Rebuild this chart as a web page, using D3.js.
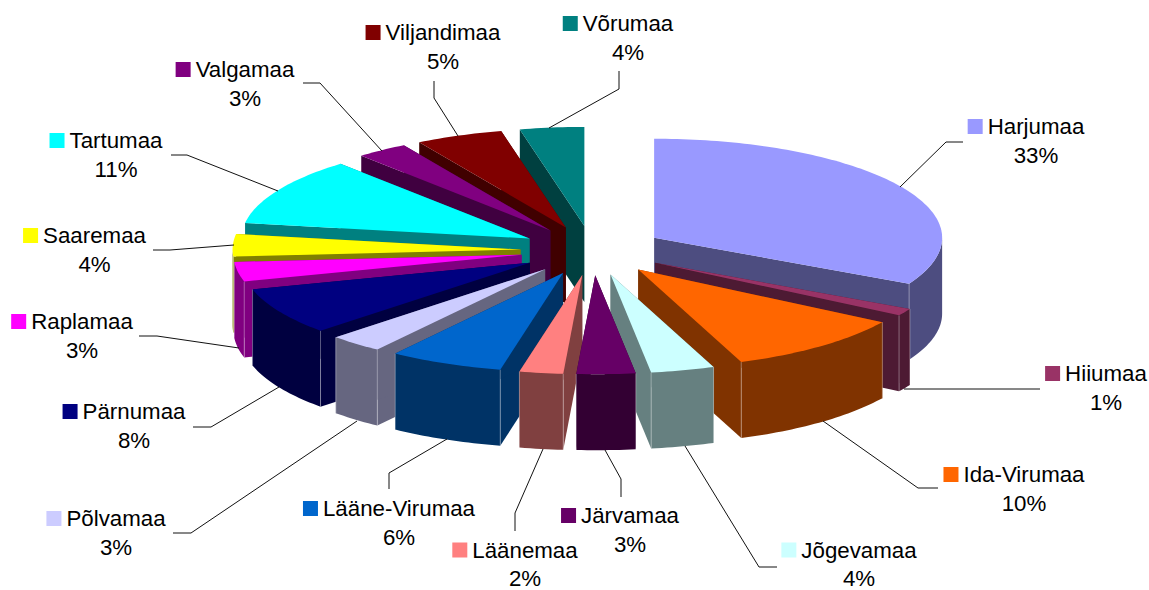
<!DOCTYPE html>
<html>
<head>
<meta charset="utf-8">
<script src="https://cdn.jsdelivr.net/npm/d3@7"></script>
<style>
	html, body { margin: 0; padding: 0; background: #fff; }
	svg { display: block; }
	.label { font-family: "Liberation Sans", Arial, sans-serif; font-size: 22.3px; fill: #000; }
	.leader { fill: none; stroke: #111; stroke-width: 1; }
</style>
</head>
<body>
<script>
//county shares, clockwise from 12 o'clock
var names = ["Harjumaa", "Hiiumaa", "Ida-Virumaa", "Jõgevamaa", "Järvamaa", "Läänemaa", "Lääne-Virumaa", "Põlvamaa",
			"Pärnumaa", "Raplamaa", "Saaremaa", "Tartumaa", "Valgamaa", "Viljandimaa", "Võrumaa"];
var values = [32.7, 1.2, 10.28, 3.57, 3.3, 2.45, 6.4, 3.05, 7.7, 3.2, 3.65, 11.1, 2.9, 4.9, 3.6];

//slice colours
var colors = ["#9999ff", "#993366", "#ff6600", "#ccffff", "#660066", "#ff8080", "#0066cc", "#ccccff",
			"#000080", "#ff00ff", "#ffff00", "#00ffff", "#800080", "#800000", "#008080"];

//label placement: centre of the name, baseline of the name
var labelX = [1036, 1106, 1024, 859, 630, 525, 399, 116, 134, 82, 94.5, 116, 245, 443, 628];
var labelY = [134, 381, 482, 557.5, 523, 557.5, 516, 526, 419, 329, 243, 148, 77, 40, 31];

//leader lines
var leaders = [
	[[900, 187], [946, 142], [963, 142]],
	[[904, 389], [1040, 389]],
	[[823, 421], [918, 488], [938, 488]],
	[[685, 446], [759, 567], [777, 567]],
	[[605, 450], [621, 479], [621, 497]],
	[[543, 449], [515, 513], [515, 531]],
	[[447, 439], [389, 473], [389, 489]],
	[[357, 421], [191, 533], [173, 533]],
	[[279, 387], [211, 427], [193, 427]],
	[[239, 348], [157, 336], [139, 336]],
	[[234, 245], [170, 250], [153, 250]],
	[[278, 191], [187, 155], [171, 155]],
	[[382, 151], [320, 83], [303, 83]],
	[[458, 136], [434, 98], [434, 81]],
	[[549, 128], [619, 89], [619, 71]]
];

//begin script when window loads
window.onload = setChart();

function setChart(){
	var width = 1149,
		height = 590,
		explode = 0.25, //slices are pulled out by a quarter radius
		depth = 76;

	var svg = d3.select("body")
		.append("svg")
		.attr("width", width)
		.attr("height", height);

	//unit circle to tilted screen ellipse
	var xScale = d3.scaleLinear().domain([-1, 1]).range([592.5 - 288, 592.5 + 288]);
	var yScale = d3.scaleLinear().domain([-1, 1]).range([250.5 - 99, 250.5 + 99]);

	var pie = d3.pie()
		.sort(null)
		.value(function(d){ return d; });

	var arcs = pie(values).map(function(d, i){
		d.index = i;
		d.mid = (d.startAngle + d.endAngle) / 2;
		return d;
	});

	var line = d3.line();

	//apex of a slice after exploding it
	function apex(d){
		return [Math.sin(d.mid) * explode, -Math.cos(d.mid) * explode];
	}

	function toScreen(p, drop){
		return [xScale(p[0]), yScale(p[1]) + (drop || 0)];
	}

	//rim of the slice between two angles, in unit coordinates
	function rim(d, from, to){
		var a = apex(d);
		var steps = Math.max(2, Math.ceil((to - from) / 0.02));
		return d3.range(steps + 1).map(function(k){
			var t = from + (to - from) * k / steps;
			return [a[0] + Math.sin(t), a[1] - Math.cos(t)];
		});
	}

	function sideColor(c){
		var rgb = d3.rgb(c);
		return d3.rgb(rgb.r * 0.5, rgb.g * 0.5, rgb.b * 0.5).formatHex();
	}

	//paint from the back of the pie to the front
	var order = arcs.slice().sort(function(a, b){
		return Math.cos(b.mid) - Math.cos(a.mid);
	});

	var slices = svg.selectAll(".slice")
		.data(order)
		.enter()
		.append("g")
		.attr("class", "slice");

	slices.each(function(d){
		var g = d3.select(this),
			a = apex(d),
			r = rim(d, d.startAngle, d.endAngle),
			first = r[0],
			last = r[r.length - 1],
			side = sideColor(colors[d.index]);

		//two cut faces
		[first, last].forEach(function(p){
			g.append("path")
				.attr("d", line([toScreen(a), toScreen(p), toScreen(p, depth), toScreen(a, depth)]) + "Z")
				.attr("fill", side);
		});

		//outer wall, only the part facing the viewer
		var from = Math.max(d.startAngle, Math.PI / 2),
			to = Math.min(d.endAngle, Math.PI * 1.5);
		if (from < to){
			var front = rim(d, from, to);
			var wall = front.map(function(p){ return toScreen(p); })
				.concat(front.slice().reverse().map(function(p){ return toScreen(p, depth); }));
			g.append("path")
				.attr("d", line(wall) + "Z")
				.attr("fill", side);
		}

		//light corners where wall meets cut face, front half only
		[[first, d.startAngle], [last, d.endAngle]].forEach(function(c){
			if (Math.cos(c[1]) < 0){
				g.append("path")
					.attr("d", line([toScreen(c[0]), toScreen(c[0], depth)]))
					.attr("stroke", "#fff")
					.attr("stroke-opacity", 0.35)
					.attr("fill", "none");
			}
		});

		//top face
		g.append("path")
			.attr("d", line([toScreen(a)].concat(r.map(function(p){ return toScreen(p); }))) + "Z")
			.attr("fill", colors[d.index]);
	});

	//leader lines
	svg.selectAll(".leader")
		.data(leaders)
		.enter()
		.append("path")
		.attr("class", "leader")
		.attr("d", function(d){ return line(d); });

	//labels: legend key, name, percent
	var total = d3.sum(values);
	var labels = svg.selectAll(".labelGroup")
		.data(names)
		.enter()
		.append("g")
		.attr("class", "labelGroup");

	labels.each(function(name, i){
		var g = d3.select(this);
		var nameText = g.append("text")
			.attr("class", "label")
			.attr("x", labelX[i])
			.attr("y", labelY[i])
			.attr("text-anchor", "middle")
			.text(name);

		g.append("text")
			.attr("class", "label")
			.attr("x", labelX[i])
			.attr("y", labelY[i] + 28.5)
			.attr("text-anchor", "middle")
			.text(Math.round(values[i] / total * 100) + "%");

		var textWidth = nameText.node().getComputedTextLength();
		g.append("rect")
			.attr("x", labelX[i] - textWidth / 2 - 20)
			.attr("y", labelY[i] - 15)
			.attr("width", 15)
			.attr("height", 15)
			.attr("fill", colors[i]);
	});
}
</script>
</body>
</html>
